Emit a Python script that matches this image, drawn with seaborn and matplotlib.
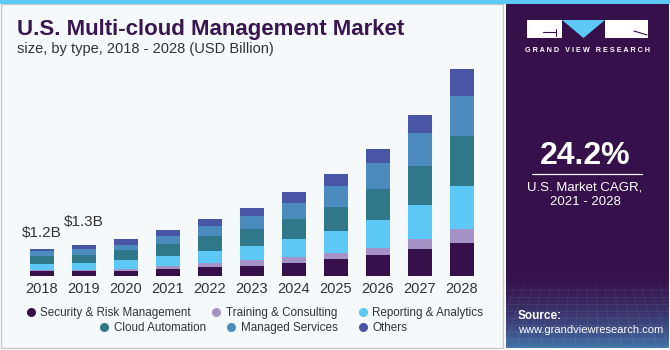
import numpy as np
import pandas as pd
import matplotlib
matplotlib.use("Agg")
import matplotlib.pyplot as plt
import seaborn as sns
from matplotlib.patches import Rectangle, Polygon
from matplotlib.lines import Line2D

years = ["2018", "2019", "2020", "2021", "2022", "2023", "2024", "2025", "2026", "2027", "2028"]
security = [0.22, 0.20, 0.22, 0.30, 0.37, 0.44, 0.56, 0.74, 0.89, 1.15, 1.43]
training = [0.03, 0.07, 0.10, 0.12, 0.17, 0.23, 0.25, 0.23, 0.33, 0.43, 0.57]
reporting = [0.25, 0.31, 0.36, 0.43, 0.52, 0.61, 0.77, 0.98, 1.19, 1.46, 1.86]
cloud = [0.34, 0.33, 0.42, 0.52, 0.65, 0.73, 0.86, 1.03, 1.35, 1.71, 2.14]
managed = [0.23, 0.23, 0.25, 0.34, 0.42, 0.59, 0.68, 0.90, 1.09, 1.38, 1.76]
others = [0.10, 0.18, 0.26, 0.27, 0.31, 0.31, 0.47, 0.50, 0.63, 0.79, 1.12]
series_names = ["Security & Risk Management", "Training & Consulting", "Reporting & Analytics",
                "Cloud Automation", "Managed Services", "Others"]
bar_labels = {"2018": "$1.2B", "2019": "$1.3B"}
cagr_text = "24.2%"

colors = ["#35104A", "#A593C8", "#5BC8F5", "#2E7889", "#4C8BBE", "#4856A5"]

sns.set_theme(style="white")
plt.rcParams["font.family"] = ["Liberation Sans", "DejaVu Sans"]

W, H = 670, 350
fig = plt.figure(figsize=(6.7, 3.5), dpi=100)
fig.patch.set_facecolor("white")

# background layer in pixel coordinates
bg = fig.add_axes([0, 0, 1, 1])
bg.set_xlim(0, W)
bg.set_ylim(H, 0)
bg.axis("off")
bg.add_patch(Rectangle((1, 4), 502, 344, facecolor="#F5F9FC", edgecolor="#C8C8C8", lw=1))
bg.add_patch(Rectangle((0, 0), W, 4, facecolor="#5BC8F5", edgecolor="none"))
bg.add_patch(Rectangle((506, 4), 163, 344, facecolor="#36104A", edgecolor="none"))
# gradient at bottom of panel
grad = np.linspace(0, 1, 100)[:, None] ** 1.8
c0 = np.array(matplotlib.colors.to_rgb("#36104A"))
c1 = np.array(matplotlib.colors.to_rgb("#4272A8"))
img = c0[None, None, :] * (1 - grad[..., None]) + c1[None, None, :] * grad[..., None]
img = np.repeat(img, 10, axis=1)
bg.imshow(img, extent=(506, 669, 348, 265), aspect="auto", zorder=1, interpolation="bilinear")
# grid lines hint
for yy in np.arange(290, 348, 7):
    bg.plot([506, 669], [yy, yy], color="white", alpha=0.07, lw=0.6, zorder=2)
for xx in np.arange(506, 669, 9):
    bg.plot([xx, xx + (xx - 587) * 0.3], [285, 348], color="white", alpha=0.07, lw=0.6, zorder=2)

# logo
bg.add_patch(Rectangle((527, 20), 35, 18, facecolor="white", edgecolor="none", zorder=3))
bg.add_patch(Polygon([(562, 20), (605, 20), (583.5, 38)], closed=True, facecolor="#5BC8F5", edgecolor="none", zorder=3))
bg.add_patch(Rectangle((605, 20), 43, 18, facecolor="white", edgecolor="none", zorder=3))
bg.plot([543, 556], [32, 32], color="#36104A", lw=0.8, zorder=4)
bg.plot([556, 556], [29, 36], color="#36104A", lw=0.8, zorder=4)
bg.plot([634, 647], [31, 35], color="#36104A", lw=0.8, zorder=4)
bg.text(587.5, 51, "G R A N D   V I E W   R E S E A R C H", color="white", fontsize=5.2, fontweight="bold",
        ha="center", va="center", zorder=4)

bg.text(585, 156, cagr_text, color="white", fontsize=23, fontweight="bold", ha="center", va="center", zorder=4)
bg.plot([532, 642], [174, 174], color="white", lw=0.9, zorder=4)
bg.text(585, 187, "U.S. Market CAGR,", color="white", fontsize=9.5, ha="center", va="center", zorder=4)
bg.text(585, 202, "2021 - 2028", color="white", fontsize=9.5, ha="center", va="center", zorder=4)
bg.text(518, 316, "Source:", color="white", fontsize=8.5, fontweight="bold", ha="left", va="center", zorder=4)
bg.text(518, 330, "www.grandviewresearch.com", color="white", fontsize=8, ha="left", va="center", zorder=4)

# titles
bg.text(17, 29, "U.S. Multi-cloud Management Market", color="#3A1650", fontsize=16,
        fontweight="bold", ha="left", va="center")
bg.text(17, 49, "size, by type, 2018 - 2028 (USD Billion)", color="#333333", fontsize=10.5,
        ha="left", va="center")

# main chart
ax = fig.add_axes([21 / W, 1 - 276 / H, 462 / W, 232.6 / H])
ax.set_facecolor("none")

df = pd.DataFrame({"year": years, "Security & Risk Management": security,
                   "Training & Consulting": training, "Reporting & Analytics": reporting,
                   "Cloud Automation": cloud, "Managed Services": managed, "Others": others})
cum = df[series_names].cumsum(axis=1)
for name, col in reversed(list(zip(series_names, colors))):
    sns.barplot(x=df["year"], y=cum[name], color=col, width=0.57, ax=ax,
                saturation=1, linewidth=0)

ax.set_xlim(-0.5, 10.5)
ax.set_ylim(0, 10)
ax.set_xlabel("")
ax.set_ylabel("")
ax.set_yticks([])
ax.tick_params(axis="x", length=0, labelsize=10.5, colors="#333333", pad=4)
for s in ax.spines.values():
    s.set_visible(False)

totals = cum["Others"].values
offs = {"2018": 16, "2019": 23}
for i, y in enumerate(years):
    if y in bar_labels:
        ax.annotate(bar_labels[y], (i, totals[i]), xytext=(0, offs[y] * 0.72),
                    textcoords="offset points", ha="center", va="center",
                    fontsize=11, color="#333333")

# legend in two centered rows
handles = [Line2D([], [], marker="o", ls="none", markersize=6.5, markerfacecolor=c,
                  markeredgecolor="none") for c in colors]
leg_kw = dict(frameon=False, fontsize=8.4, handletextpad=0.3, columnspacing=1.7,
              handlelength=1.0, borderpad=0, labelcolor="#333333")
l1 = fig.legend(handles[:3], series_names[:3], ncol=3, loc="center",
                bbox_to_anchor=(254 / W, 1 - 313 / H), **leg_kw)
l2 = fig.legend(handles[3:], series_names[3:], ncol=3, loc="center",
                bbox_to_anchor=(253 / W, 1 - 328 / H), **leg_kw)

fig.savefig("out.png", dpi=100)
